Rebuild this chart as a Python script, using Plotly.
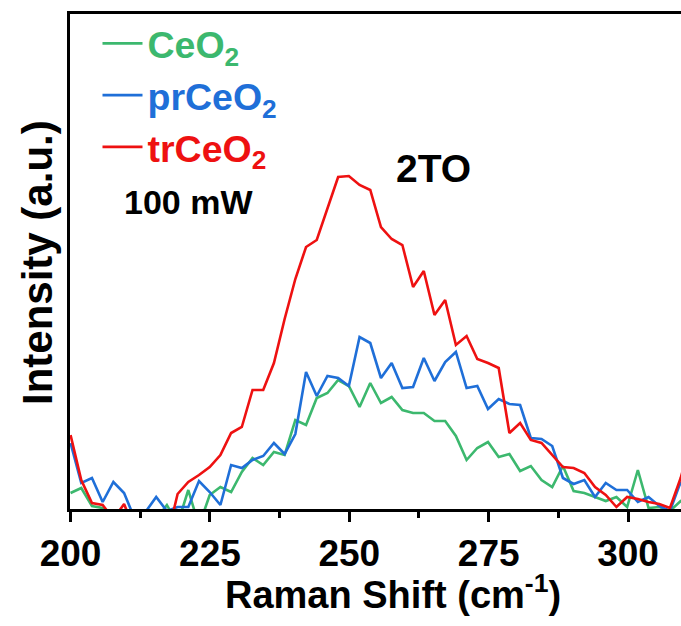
import plotly.graph_objects as go

# Raman shift grid (cm^-1)
x_start = 200.0
x_step = 1.92
n_points = 59
raman_shift = [round(x_start + x_step * i, 2) for i in range(n_points)]

ceo2 = [16, 21, 3, 1, -8, -10, -10, -10, -10, 4, -15, 19, -17, 14, 22, 17, 37, 51, 44, 57,
        54, 89, 84, 111, 116, 129, 123, 102, 126, 106, 112, 99, 96, 96, 88, 88, 73, 49, 61, 67,
        52, 55, 38, 43, 29, 22, 43, 18, 16, 12, 8, 12, 2, 39, 1, 2, -2, 8, 4]

prceo2 = [66, 26, 31, 7, 27, 16, -10, -3, 12, -2, 2, 2, 28, 17, 4, 44, 41, 49, 53, 66,
          55, 75, 137, 113, 133, 131, 123, 172, 166, 131, 146, 121, 122, 151, 128, 147, 157, 121, 123, 100,
          110, 105, 104, 71, 70, 63, 31, 25, 29, 12, 26, 19, 19, 7, 12, 3, -2, 27, 5]

trceo2 = [74, 29, 6, 4, -10, 5, -22, -20, -18, -30, 15, 27, 34, 42, 54, 76, 82, 119, 119, 146,
          190, 230, 262, 269, 301, 332, 333, 324, 319, 282, 270, 264, 222, 238, 194, 209, 164, 173, 150, 146,
          141, 76, 86, 69, 66, 54, 42, 41, 36, 22, 14, 2, 12, 10, 7, 5, 1, 31, 70]

series_names = ["CeO<sub>2</sub>", "prCeO<sub>2</sub>", "trCeO<sub>2</sub>"]
series_colors = ["#3cb86e", "#1f6fd8", "#ee1111"]
series_values = [ceo2, prceo2, trceo2]

x_ticks = [200, 225, 250, 275, 300]
x_range = [199.9, 309.5]
y_range = [0, 495]

FONT = "Liberation Sans, Arial, sans-serif"

fig = go.Figure()
for name, color, vals in zip(series_names, series_colors, series_values):
    fig.add_trace(go.Scatter(
        x=raman_shift, y=vals, mode="lines",
        name=f"<span style='color:{color}'>{name}</span>",
        line=dict(color=color, width=2.6),
    ))

fig.update_layout(
    width=681, height=626,
    margin=dict(l=70, r=0, t=14, b=117),
    paper_bgcolor="white", plot_bgcolor="white",
    showlegend=True,
    legend=dict(
        x=0.045, y=1.003, xanchor="left", yanchor="top",
        bgcolor="rgba(0,0,0,0)",
        font=dict(family=FONT, size=37.5, weight="bold"),
        tracegroupgap=0, itemwidth=40,
    ),
    font=dict(family=FONT, color="black"),
)

fig.update_xaxes(
    range=x_range, tickvals=x_ticks, ticktext=[str(t) for t in x_ticks],
    showline=True, linewidth=3, linecolor="black", mirror=True,
    ticks="outside", ticklen=10, tickwidth=3, tickcolor="black",
    minor=dict(dtick=12.5, tick0=200, ticks="outside", ticklen=6, tickwidth=3, tickcolor="black"),
    tickfont=dict(family=FONT, size=37, weight="bold", color="black"),
    showgrid=False, zeroline=False,
)
fig.update_yaxes(
    range=y_range, showline=True, linewidth=3, linecolor="black", mirror=False,
    ticks="", showticklabels=False, showgrid=False, zeroline=False,
)

# axis titles
fig.add_annotation(
    xref="paper", yref="paper", x=(393 - 70) / 611, y=(509 - 592) / 495,
    text="Raman Shift (cm<sup>-1</sup>)", showarrow=False,
    font=dict(family=FONT, size=38, weight="bold", color="black"),
    xanchor="center", yanchor="middle",
)
fig.add_annotation(
    xref="paper", yref="paper", x=(37 - 70) / 611, y=(509 - 263) / 495,
    text="Intensity (a.u.)", textangle=-90, showarrow=False,
    font=dict(family=FONT, size=42, weight="bold", color="black"),
    xanchor="center", yanchor="middle",
)
fig.add_annotation(
    xref="paper", yref="paper", x=(188 - 70) / 611, y=(509 - 202) / 495,
    text="100 mW", showarrow=False,
    font=dict(family=FONT, size=34, weight="bold", color="black"),
    xanchor="center", yanchor="middle",
)
fig.add_annotation(
    xref="paper", yref="paper", x=(433 - 70) / 611, y=(509 - 168) / 495,
    text="2TO", showarrow=False,
    font=dict(family=FONT, size=39, weight="bold", color="black"),
    xanchor="center", yanchor="middle",
)

fig.write_html("out.html")
